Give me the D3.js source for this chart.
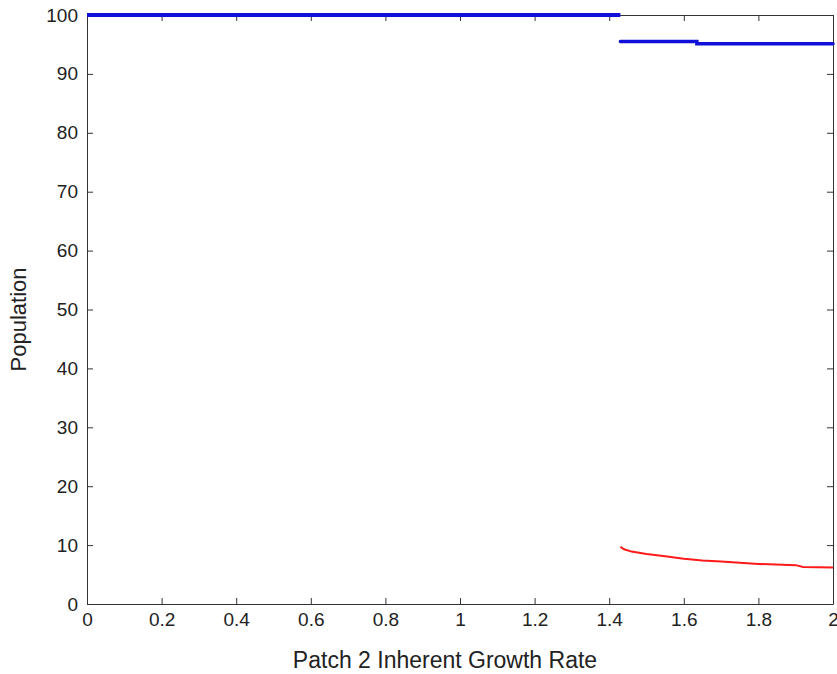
<!DOCTYPE html>
<html><head><meta charset="utf-8">
<script src="https://cdn.jsdelivr.net/npm/d3@7"></script>
<style>body{margin:0;background:#fff;font-family:"Liberation Sans",Arial,sans-serif}</style>
</head><body><div id="chart"></div>
<script>
// values
const xTicks = [0, 0.2, 0.4, 0.6, 0.8, 1, 1.2, 1.4, 1.6, 1.8, 2];
const yTicks = [0, 10, 20, 30, 40, 50, 60, 70, 80, 90, 100];
const blue1 = [[0, 100], [1.43, 100]];
const blue2 = [[1.43, 95.5], [1.635, 95.5], [1.635, 95.1], [2, 95.1]];
const red = [[1.43, 9.7], [1.44, 9.3], [1.46, 8.9], [1.5, 8.5], [1.55, 8.1], [1.6, 7.7], [1.65, 7.4],
             [1.7, 7.2], [1.75, 7.0], [1.8, 6.8], [1.9, 6.6], [1.92, 6.3], [2, 6.2]];

const W = 837, H = 674;
const m = {left: 87, right: 4, top: 15, bottom: 70};
const iw = W - m.left - m.right, ih = H - m.top - m.bottom;
const svg = d3.select('#chart').append('svg').attr('width', W).attr('height', H);
const g = svg.append('g').attr('transform', `translate(${m.left},${m.top})`);
const x = d3.scaleLinear().domain([0, 2]).range([0, iw]);
const y = d3.scaleLinear().domain([0, 100]).range([ih, 0]);

function styleAxis(a){
  a.select('.domain').attr('stroke', '#333');
  a.selectAll('.tick line').attr('stroke', '#333');
  a.selectAll('.tick text').attr('font-size', 19).attr('fill', '#222')
    .attr('font-family', '"Liberation Sans",Arial,sans-serif');
}
const fmt = d => String(d);
styleAxis(g.append('g').attr('transform', `translate(0,${ih})`)
  .call(d3.axisBottom(x).tickValues(xTicks).tickFormat(fmt).tickSizeInner(-6).tickSizeOuter(0).tickPadding(9)));
styleAxis(g.append('g')
  .call(d3.axisLeft(y).tickValues(yTicks).tickFormat(fmt).tickSizeInner(-6).tickSizeOuter(0).tickPadding(9)));
styleAxis(g.append('g')
  .call(d3.axisTop(x).tickValues(xTicks).tickFormat('').tickSizeInner(-6).tickSizeOuter(0)));
styleAxis(g.append('g').attr('transform', `translate(${iw},0)`)
  .call(d3.axisRight(y).tickValues(yTicks).tickFormat('').tickSizeInner(-6).tickSizeOuter(0)));

const line = d3.line().x(d => x(d[0])).y(d => y(d[1]));
g.append('path').datum(blue1).attr('d', line).attr('fill', 'none').attr('stroke', '#1010d8').attr('stroke-width', 4);
g.append('path').datum(blue2).attr('d', line).attr('fill', 'none').attr('stroke', '#1010d8').attr('stroke-width', 3.5)
  .attr('stroke-linecap', 'round');
g.append('path').datum(red).attr('d', line)
  .attr('fill', 'none').attr('stroke', '#ff1a1a').attr('stroke-width', 2);

svg.append('text').attr('x', 445).attr('y', 668).attr('text-anchor', 'middle')
  .attr('font-size', 23).attr('fill', '#222').text('Patch 2 Inherent Growth Rate');
svg.append('text').attr('transform', `translate(26,${m.top + ih / 2 + 10}) rotate(-90)`).attr('text-anchor', 'middle')
  .attr('font-size', 22).attr('fill', '#222').text('Population');
</script></body></html>
